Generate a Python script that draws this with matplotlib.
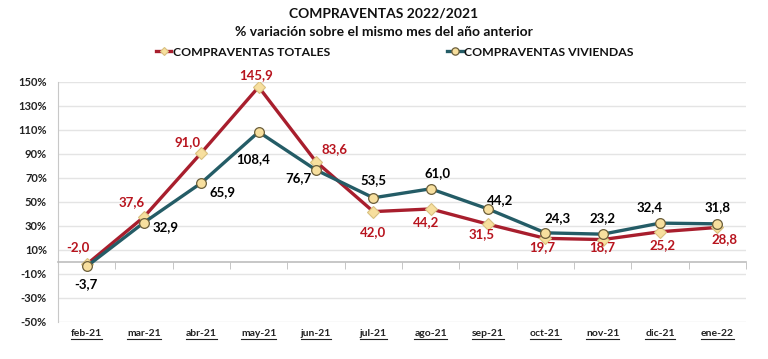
import matplotlib
matplotlib.use("Agg")
import matplotlib.pyplot as plt
from matplotlib.lines import Line2D
from matplotlib.ticker import FixedLocator

plt.rcParams['font.family'] = ['Lato', 'DejaVu Sans']

months = ["feb-21", "mar-21", "abr-21", "may-21", "jun-21", "jul-21",
          "ago-21", "sep-21", "oct-21", "nov-21", "dic-21", "ene-22"]
totales = [-2.0, 37.6, 91.0, 145.9, 83.6, 42.0, 44.2, 31.5, 19.7, 18.7, 25.2, 28.8]
viviendas = [-3.7, 32.9, 65.9, 108.4, 76.7, 53.5, 61.0, 44.2, 24.3, 23.2, 32.4, 31.8]
yticks = [-50, -30, -10, 10, 30, 50, 70, 90, 110, 130, 150]

# label offsets in pixels (dx, dy)
off_tot = [(-9, 17), (-12, 15), (-14, 11), (-3, 12), (19, 13), (0, -20),
           (-5, -13), (-6, -10), (-3, -9), (0, -8), (2, -13), (7, -12)]
off_viv = [(-1, -18), (22, -5), (21, -9), (-6, -27), (-18, -8), (0, 18),
           (7, 16), (12, 9), (12, 15), (0, 16), (-10, 16), (0, 17)]

RED = "#A81E2D"
TEAL = "#245C66"
LABRED = "#B8141E"
MFACE = "#F7DF9E"

fig = plt.figure(figsize=(7.68, 3.59), dpi=100)
ax = fig.add_axes([58/768, 1 - 322/359, (746-58)/768, 240/359])

x = list(range(len(months)))
ax.plot(x, totales, color=RED, lw=2.4, marker="D", ms=6, mfc=MFACE,
        mec="#D8C080", mew=0.8, zorder=3, label="COMPRAVENTAS TOTALES")
ax.plot(x, viviendas, color=TEAL, lw=2.4, marker="o", ms=7, mfc=MFACE,
        mec="#6B5E3A", mew=0.9, zorder=4, label="COMPRAVENTAS VIVIENDAS")

for i, v in enumerate(totales):
    ax.annotate(f"{v:.1f}".replace(".", ","), (i, v), xytext=off_tot[i],
                textcoords="offset pixels", ha="center", va="center",
                color=LABRED, fontsize=9.5, fontweight="bold", zorder=5)
for i, v in enumerate(viviendas):
    ax.annotate(f"{v:.1f}".replace(".", ","), (i, v), xytext=off_viv[i],
                textcoords="offset pixels", ha="center", va="center",
                color="black", fontsize=9.5, fontweight="bold", zorder=5)

ax.set_xlim(-0.5, len(months) - 0.5)
ax.set_ylim(-50, 150)
ax.set_yticks(yticks)
ax.set_yticklabels([f"{t}%" for t in yticks], fontsize=8, fontweight="bold",
                   color="#222222")
ax.tick_params(axis="y", length=0, pad=8)
ax.grid(axis="y", color="#E4E4E4", lw=1)
ax.set_axisbelow(True)

ax.spines["top"].set_visible(False)
ax.spines["right"].set_visible(False)
ax.spines["left"].set_color("#C8C8C8")
ax.spines["bottom"].set_position(("data", 0))
ax.spines["bottom"].set_color("#BDBDBD")
ax.spines["bottom"].set_linewidth(1.2)

ax.set_xticks(x)
ax.set_xticklabels(months, fontsize=7.5, fontweight="bold", color="#222222")
ax.tick_params(axis="x", which="major", length=0, pad=48)
ax.xaxis.set_minor_locator(FixedLocator([i - 0.5 for i in range(len(months) + 1)]))
ax.tick_params(axis="x", which="minor", length=5, color="#BDBDBD", direction="out")

fig.text(0.5, 1 - 14/359, "COMPRAVENTAS 2022/2021", ha="center", va="center",
         fontsize=10, fontweight="bold", color="#111111")
fig.text(0.5, 1 - 32/359, "% variación sobre el mismo mes del año anterior",
         ha="center", va="center", fontsize=10, fontweight="bold", color="#111111")

leg = fig.legend(loc="center", bbox_to_anchor=(0.514, 1 - 52/359), ncol=2,
                 frameon=False, fontsize=8.8, handlelength=1.3, handletextpad=0.15,
                 columnspacing=9.5, borderaxespad=0, markerscale=0.75)
for t in leg.get_texts():
    t.set_fontweight("bold")
    t.set_color("#111111")

# underline x tick labels
fig.canvas.draw()
r = fig.canvas.get_renderer()
for lab in ax.get_xticklabels():
    bb = lab.get_window_extent(r)
    fig.add_artist(Line2D([bb.x0 / 768, bb.x1 / 768], [(bb.y0 - 1) / 359] * 2,
                          transform=fig.transFigure, color="#222222", lw=0.8))

fig.savefig("out.png", dpi=100)
